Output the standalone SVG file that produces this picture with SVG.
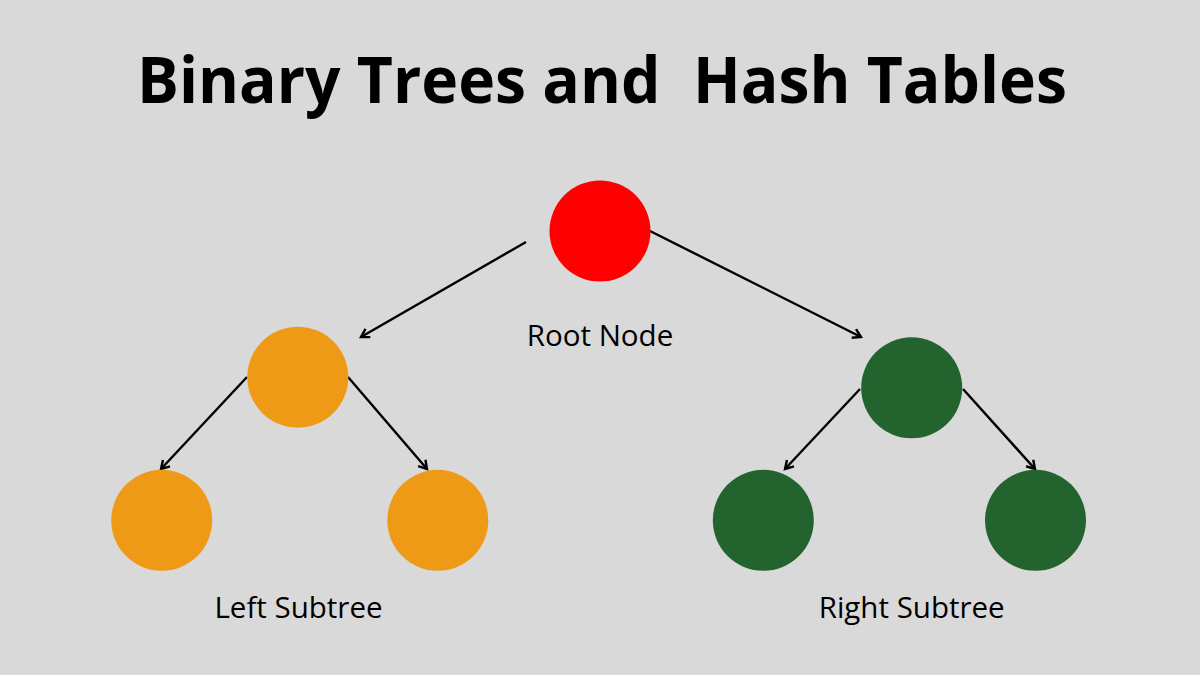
<svg xmlns="http://www.w3.org/2000/svg" width="1200" height="675" viewBox="0 0 1200 675">
  <defs>
    <style>
      .title { font-family: "Open Sans", "Liberation Sans", sans-serif; font-weight: 700; font-size: 65px; fill: #000; white-space: pre; }
      .label { font-family: "Open Sans", "Liberation Sans", sans-serif; font-weight: 400; font-size: 29.5px; fill: #000; }
      .edge { stroke: #000; stroke-width: 2.4; fill: none; }
      .red { fill: #FF0000; }
      .orange { fill: #EF9A17; }
      .green { fill: #22632E; }
    </style>
    <marker id="arrow" markerUnits="userSpaceOnUse" markerWidth="14" markerHeight="14" refX="11" refY="7" orient="auto">
      <path d="M3,2.2 L11,7 L3,11.8" fill="none" stroke="#000" stroke-width="2.4" stroke-linejoin="miter"/>
    </marker>
  </defs>
  <rect x="0" y="0" width="1200" height="675" fill="#D9D9D9"/>
  <text class="title" x="137" y="103" textLength="930" lengthAdjust="spacingAndGlyphs" xml:space="preserve">Binary Trees and  Hash Tables</text>

  <g id="connectors">
    <line class="edge" x1="526" y1="242" x2="361" y2="337" marker-end="url(#arrow)"/>
    <line class="edge" x1="650" y1="231" x2="861" y2="337" marker-end="url(#arrow)"/>
    <line class="edge" x1="247" y1="377" x2="161" y2="469" marker-end="url(#arrow)"/>
    <line class="edge" x1="348" y1="377" x2="427" y2="469" marker-end="url(#arrow)"/>
    <line class="edge" x1="860" y1="389" x2="785" y2="469" marker-end="url(#arrow)"/>
    <line class="edge" x1="963" y1="389" x2="1035" y2="469" marker-end="url(#arrow)"/>
  </g>

  <g id="root">
    <circle class="red" cx="600" cy="231" r="50.5"/>
    <text class="label" x="600" y="346" text-anchor="middle">Root Node</text>
  </g>
  <g id="left-child">
    <circle class="orange" cx="297.8" cy="377.2" r="50.5"/>
  </g>
  <g id="left-left-leaf">
    <circle class="orange" cx="161.7" cy="520.3" r="50.5"/>
  </g>
  <g id="left-right-leaf">
    <circle class="orange" cx="437.8" cy="520.3" r="50.5"/>
  </g>
  <g id="right-child">
    <circle class="green" cx="911.7" cy="387.8" r="50.5"/>
  </g>
  <g id="right-left-leaf">
    <circle class="green" cx="763.3" cy="520.3" r="50.5"/>
  </g>
  <g id="right-right-leaf">
    <circle class="green" cx="1035.5" cy="520.3" r="50.5"/>
  </g>
  <g id="left-subtree-label">
    <text class="label" x="298.5" y="617.5" text-anchor="middle">Left Subtree</text>
  </g>
  <g id="right-subtree-label">
    <text class="label" x="911.7" y="617.5" text-anchor="middle">Right Subtree</text>
  </g>
</svg>
